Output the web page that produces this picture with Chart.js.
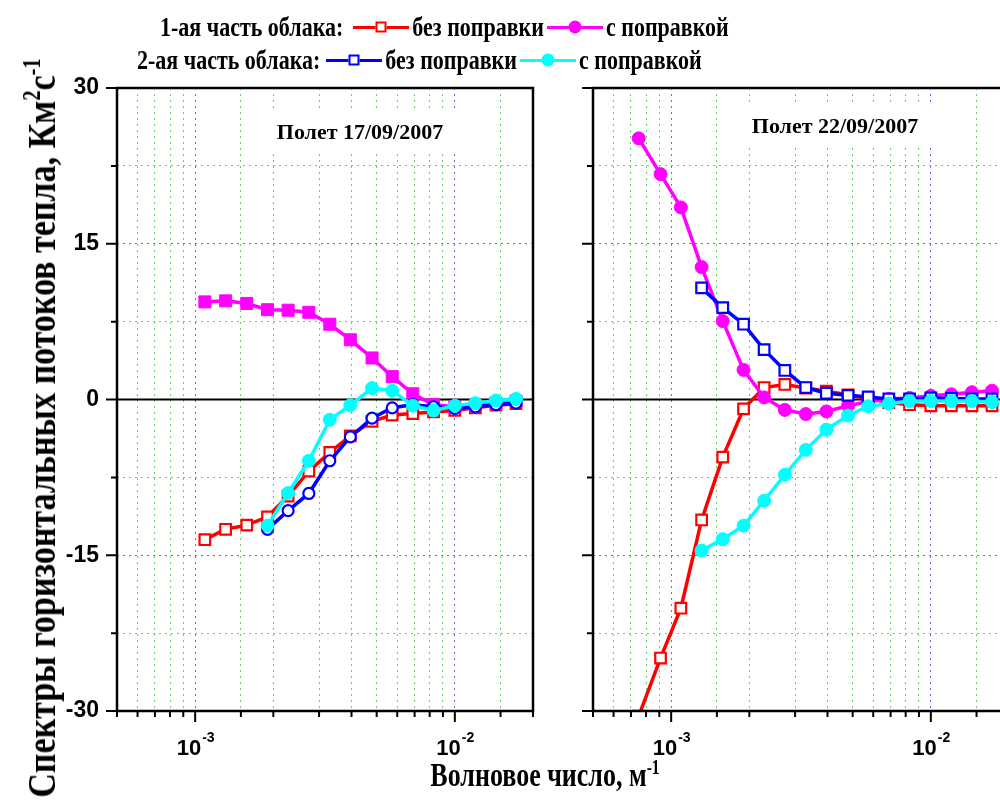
<!DOCTYPE html>
<html>
<head>
<meta charset="utf-8">
<script src="https://cdn.jsdelivr.net/npm/chart.js@4.4.0/dist/chart.umd.min.js"></script>
<style>
    html, body { margin: 0; padding: 0; background: #fff; overflow: hidden; }
    #page {
        position: relative; width: 1000px; height: 803px; overflow: hidden;
        font-family: "Liberation Serif", "Times New Roman", serif; font-weight: bold; color: #000;
    }
    canvas { position: absolute; top: 0; }
    #leftChart { left: 0; }
    #rightChart { left: 560px; }
    .legend-row {
        position: absolute; font-size: 22px; white-space: nowrap;
        display: flex; align-items: center; height: 30px;
    }
    .legend-row .txt { display: inline-block; transform: scaleY(1.25); }
    .sample { position: relative; display: inline-block; width: 56px; height: 14px; margin: 0 3px; }
    .sample::before {
        content: ''; position: absolute; left: 0; right: 0; top: 5.5px;
        border-top: 3px solid currentColor;
    }
    .mk { position: absolute; left: 50%; top: 50%; transform: translate(-50%, -50%); box-sizing: border-box; }
    .mk.sq { width: 11px; height: 11px; background: #fff; border: 2px solid currentColor; }
    .mk.dot { width: 13px; height: 13px; border-radius: 50%; background: currentColor; }
    #ylabel {
        position: absolute; left: 42px; top: 428px; white-space: nowrap; font-size: 34px;
        transform: translate(-50%, -50%) rotate(-90deg) scaleY(1.2);
    }
    #xlabel {
        position: absolute; left: 545px; top: 776px; white-space: nowrap; font-size: 26px;
        transform: translate(-50%, -50%) scaleY(1.3);
    }
    sup { font-size: 60%; vertical-align: super; line-height: 0; }
</style>
</head>
<body>
<div id="page">
    <canvas id="leftChart" width="560" height="803" style="width:560px;height:803px"></canvas>
    <canvas id="rightChart" width="470" height="803" style="width:470px;height:803px"></canvas>

    <div class="legend-row" style="left:160px; top:12px;">
        <span class="txt">1-ая часть облака:</span>
        <span class="sample" style="color:#ff0000; margin-left:10px"><span class="mk sq"></span></span>
        <span class="txt">без поправки</span>
        <span class="sample" style="color:#ff00ff"><span class="mk dot"></span></span>
        <span class="txt">с поправкой</span>
    </div>
    <div class="legend-row" style="left:137px; top:45px;">
        <span class="txt">2-ая часть облака:</span>
        <span class="sample" style="color:#0000ff; margin-left:6px"><span class="mk sq"></span></span>
        <span class="txt">без поправки</span>
        <span class="sample" style="color:#00ffff"><span class="mk dot"></span></span>
        <span class="txt">с поправкой</span>
    </div>

    <div id="ylabel">Спектры горизонтальных потоков тепла, Км<sup>2</sup>с<sup>-1</sup></div>
    <div id="xlabel">Волновое число, м<sup>-1</sup></div>
</div>

<script>
// Wavenumbers, m^-1 (same grid for both flights)
const freq = [7.5e-4, 9.1e-4, 1.09e-3, 1.31e-3, 1.58e-3, 1.9e-3, 2.28e-3, 2.74e-3, 3.3e-3,
              3.96e-3, 4.8e-3, 5.74e-3, 6.89e-3, 8.28e-3, 1.0e-2, 1.2e-2, 1.44e-2, 1.72e-2];

// Flight 17/09/2007
const f1Part1Raw  = [null, null, -13.5, -12.5, -12.1, -11.3, -9.3, -6.9, -5.1, -3.5, -2.1, -1.5, -1.35, -1.2, -1.05, -0.8, -0.55, -0.4];
const f1Part1Corr = [null, null, 9.4, 9.5, 9.25, 8.65, 8.6, 8.4, 7.25, 5.75, 4.0, 2.2, 0.55, -0.5, -0.7, -0.55, -0.35, -0.15];
const f1Part2Raw  = [null, null, null, null, null, -12.5, -10.7, -9.05, -5.9, -3.6, -1.8, -0.8, -0.5, -0.7, -0.85, -0.7, -0.5, -0.35];
const f1Part2Corr = [null, null, null, null, null, -12.15, -9.0, -5.9, -1.95, -0.55, 1.1, 0.85, -0.6, -1.05, -0.6, -0.35, -0.1, 0.05];

// Flight 22/09/2007
const f2Part1Raw  = [-30.5, -24.9, -20.1, -11.6, -5.55, -0.9, 1.15, 1.45, 1.1, 0.8, 0.45, 0.1, -0.3, -0.5, -0.6, -0.6, -0.6, -0.6];
const f2Part1Corr = [25.15, 21.7, 18.5, 12.75, 7.55, 2.85, 0.2, -1.0, -1.4, -1.15, -0.6, -0.2, 0.05, 0.15, 0.35, 0.5, 0.7, 0.85];
const f2Part2Raw  = [null, null, null, 10.75, 8.85, 7.25, 4.8, 2.8, 1.15, 0.6, 0.4, 0.25, 0.05, 0.05, 0.15, 0.1, 0.05, 0.05];
const f2Part2Corr = [null, null, null, -14.55, -13.45, -12.15, -9.75, -7.25, -4.85, -2.9, -1.55, -0.65, -0.4, -0.15, -0.15, -0.15, -0.15, -0.25];

const yTicks = [-30, -15, 0, 15, 30];

const RED = '#ff0000', MAGENTA = '#ff00ff', BLUE = '#0000ff', CYAN = '#00ffff';
const GRID_GREEN = '#5fd35f', GRID_BLUE = '#6b6bf0';

function series(values) {
    const pts = [];
    values.forEach((v, i) => { if (v !== null) pts.push({ x: freq[i], y: v }); });
    return pts;
}

function makeDataset(values, color, style, filled, order) {
    let radius = filled ? 6.5 : 5.5;
    if (style === 'rect') radius = filled ? 8.5 : 7.5;
    return {
        data: series(values),
        borderColor: color,
        borderWidth: 3.5,
        pointStyle: style,
        pointRadius: radius,
        pointBorderWidth: filled ? 1 : 2.2,
        pointBackgroundColor: filled ? color : '#ffffff',
        pointBorderColor: color,
        tension: 0,
        order: order,
        clip: 0
    };
}

function isDecade(v) {
    const l = Math.log10(v);
    return Math.abs(l - Math.round(l)) < 1e-6;
}

// Frame, zero line, ticks, tick labels and the panel title
const panelPlugin = {
    id: 'panel',
    beforeDatasetsDraw(chart, args, opts) {
        const { ctx, chartArea: a, scales: { y } } = chart;
        ctx.save();
        const y0 = y.getPixelForValue(0);
        ctx.strokeStyle = '#000';
        ctx.lineWidth = 2;
        ctx.beginPath();
        ctx.moveTo(a.left, y0);
        ctx.lineTo(a.right, y0);
        ctx.stroke();

        ctx.font = 'bold 22px "Liberation Serif"';
        const w = ctx.measureText(opts.title).width;
        ctx.fillStyle = '#fff';
        ctx.fillRect(opts.titleX - w / 2 - 16, opts.titleY - 21, w + 32, 42);
        ctx.fillStyle = '#000';
        ctx.textAlign = 'center';
        ctx.textBaseline = 'middle';
        ctx.fillText(opts.title, opts.titleX, opts.titleY);
        ctx.restore();
    },
    afterDatasetsDraw(chart, args, opts) {
        const { ctx, chartArea: a, scales: { x, y } } = chart;
        ctx.save();
        ctx.strokeStyle = '#000';
        ctx.lineWidth = 2.5;
        ctx.strokeRect(a.left, a.top, a.right - a.left, a.bottom - a.top);

        ctx.lineWidth = 2;
        ctx.beginPath();
        y.ticks.forEach(t => {
            const py = y.getPixelForValue(t.value);
            const len = t.value % 15 === 0 ? 11 : 6;
            ctx.moveTo(a.left, py);
            ctx.lineTo(a.left - len, py);
        });
        x.ticks.forEach(t => {
            const px = x.getPixelForValue(t.value);
            const len = isDecade(t.value) ? 11 : 6;
            ctx.moveTo(px, a.bottom);
            ctx.lineTo(px, a.bottom + len);
        });
        ctx.stroke();

        ctx.fillStyle = '#000';
        if (opts.yLabels) {
            ctx.font = 'bold 23px "Liberation Sans"';
            ctx.textAlign = 'right';
            ctx.textBaseline = 'middle';
            yTicks.forEach(v => ctx.fillText(String(v), a.left - 18, y.getPixelForValue(v)));
        }

        ctx.textAlign = 'left';
        ctx.textBaseline = 'alphabetic';
        x.ticks.forEach(t => {
            if (!isDecade(t.value)) return;
            const px = x.getPixelForValue(t.value);
            const exp = String(Math.round(Math.log10(t.value)));
            ctx.font = 'bold 22px "Liberation Sans"';
            const w1 = ctx.measureText('10').width;
            ctx.font = 'bold 14px "Liberation Sans"';
            const w2 = ctx.measureText(exp).width;
            const start = px - (w1 + w2) / 2;
            ctx.font = 'bold 22px "Liberation Sans"';
            ctx.fillText('10', start, a.bottom + 44);
            ctx.font = 'bold 14px "Liberation Sans"';
            ctx.fillText(exp, start + w1 + 1, a.bottom + 31);
        });
        ctx.restore();
    }
};

function makePanel(canvasId, datasets, padding, panelOpts) {
    return new Chart(document.getElementById(canvasId), {
        type: 'line',
        data: { datasets: datasets },
        options: {
            responsive: false,
            animation: false,
            events: [],
            layout: { padding: padding },
            plugins: {
                legend: { display: false },
                tooltip: { enabled: false },
                panel: panelOpts
            },
            scales: {
                x: {
                    type: 'logarithmic',
                    min: 5e-4,
                    max: 2e-2,
                    afterFit: s => { s.height = 0; },
                    ticks: { display: false, autoSkip: false },
                    border: { display: false, dash: [2, 4] },
                    grid: {
                        drawTicks: false,
                        lineWidth: 1,
                        color: c => {
                            const v = c.tick.value;
                            if (v <= 5e-4 * 1.0001 || v >= 2e-2 * 0.9999) return 'rgba(0,0,0,0)';
                            return isDecade(v) ? GRID_BLUE : GRID_GREEN;
                        }
                    }
                },
                y: {
                    type: 'linear',
                    min: -30,
                    max: 30,
                    afterFit: s => { s.width = 0; },
                    ticks: { display: false, stepSize: 7.5 },
                    border: { display: false, dash: [2, 4] },
                    grid: {
                        drawTicks: false,
                        lineWidth: 1,
                        color: c => {
                            const v = c.tick.value;
                            if (v === 0 || Math.abs(v) === 30) return 'rgba(0,0,0,0)';
                            return v % 15 === 0 ? GRID_BLUE : GRID_GREEN;
                        }
                    }
                }
            }
        },
        plugins: [panelPlugin]
    });
}

makePanel('leftChart', [
    makeDataset(f1Part1Raw, RED, 'rect', false, 4),
    makeDataset(f1Part1Corr, MAGENTA, 'rect', true, 3),
    makeDataset(f1Part2Raw, BLUE, 'circle', false, 2),
    makeDataset(f1Part2Corr, CYAN, 'circle', true, 1)
], { left: 117, right: 27, top: 88, bottom: 92 },
   { title: 'Полет 17/09/2007', titleX: 360, titleY: 133, yLabels: true });

makePanel('rightChart', [
    makeDataset(f2Part1Raw, RED, 'rect', false, 4),
    makeDataset(f2Part1Corr, MAGENTA, 'circle', true, 3),
    makeDataset(f2Part2Raw, BLUE, 'rect', false, 2),
    makeDataset(f2Part2Corr, CYAN, 'circle', true, 1)
], { left: 33, right: 21, top: 88, bottom: 92 },
   { title: 'Полет 22/09/2007', titleX: 275, titleY: 127, yLabels: false });
</script>
</body>
</html>
